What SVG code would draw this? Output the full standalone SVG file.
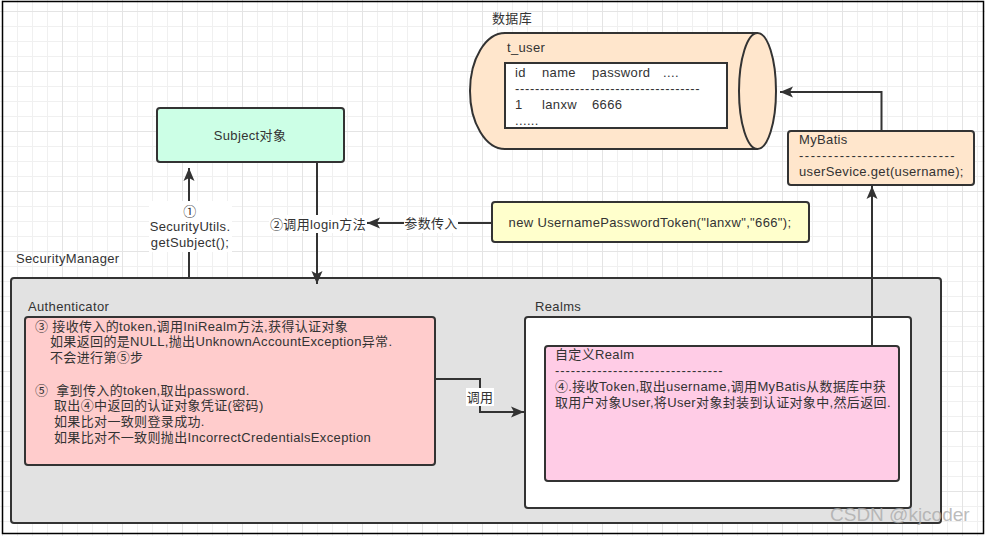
<svg xmlns="http://www.w3.org/2000/svg" width="985" height="536" viewBox="0 0 985 536">
<defs>
<pattern id="grid" width="60" height="60" patternUnits="userSpaceOnUse" x="2" y="11">
<rect width="60" height="60" fill="#ffffff"/>
<rect x="15" y="0" width="1" height="60" fill="#f0f0f0"/>
<rect x="30" y="0" width="1" height="60" fill="#f0f0f0"/>
<rect x="45" y="0" width="1" height="60" fill="#f0f0f0"/>
<rect x="0" y="15" width="60" height="1" fill="#f0f0f0"/>
<rect x="0" y="30" width="60" height="1" fill="#f0f0f0"/>
<rect x="0" y="45" width="60" height="1" fill="#f0f0f0"/>
<rect x="0" y="0" width="1" height="60" fill="#e4e4e4"/>
<rect x="0" y="0" width="60" height="1" fill="#e4e4e4"/>
</pattern>
<marker id="arr" markerUnits="userSpaceOnUse" markerWidth="14" markerHeight="12" viewBox="0 0 14 12" refX="13" refY="6" orient="auto">
<path d="M0,0.5 L13,6 L0,11.5 L3,6 Z" fill="#333"/>
</marker>
</defs>
<style>
text{font-family:"Liberation Sans","Noto Sans CJK SC",sans-serif;font-size:13px;letter-spacing:0.35px;fill:#333;}
.node{stroke:#333;stroke-width:2;}
.edge{fill:none;stroke:#333;stroke-width:2;marker-end:url(#arr);}
.lbg{fill:#ffffff;}
.mid{text-anchor:middle;}
</style>
<rect x="0" y="0" width="985" height="536" fill="url(#grid)"/>
<rect x="2.5" y="1.5" width="981" height="532" fill="none" stroke="#000" stroke-width="1.5"/>

<g id="database">
<text x="492" y="23">数据库</text>
<path class="node" d="M757.5,33 L505,33 A35,58 0 0 0 505,149 L757.5,149" fill="#ffe6cc"/>
<ellipse class="node" cx="757.5" cy="91" rx="18.5" ry="58" fill="#ffe6cc"/>
<text x="507" y="52">t_user</text>
<rect class="node" x="505" y="63" width="222" height="65" fill="#ffffff"/>
<text x="515" y="77">id</text>
<text x="542" y="77">name</text>
<text x="592" y="77">password</text>
<text x="663" y="77">....</text>
<text x="515" y="93" textLength="185" lengthAdjust="spacing">-------------------------------------</text>
<text x="515" y="109">1</text>
<text x="542" y="109">lanxw</text>
<text x="592" y="109">6666</text>
<text x="515" y="125">......</text>
</g>

<g id="mybatis">
<rect class="node" x="788" y="131" width="186" height="54" rx="3" fill="#ffe6cc"/>
<text x="799" y="144">MyBatis</text>
<text x="799" y="160" textLength="156" lengthAdjust="spacing">---------------------------</text>
<text x="799" y="176">userSevice.get(username);</text>
</g>

<g id="subject">
<rect class="node" x="157" y="108" width="187" height="54" rx="3" fill="#ccffe6"/>
<text class="mid" x="250" y="140">Subject对象</text>
</g>

<g id="token">
<rect class="node" x="492" y="202" width="317" height="40" rx="3" fill="#ffffcc"/>
<text class="mid" x="650" y="227">new UsernamePasswordToken("lanxw","666");</text>
</g>

<g id="securitymanager">
<text x="16" y="263">SecurityManager</text>
<rect class="node" x="11" y="278" width="930" height="245" rx="3" fill="#e2e2e2"/>
</g>

<g id="authenticator">
<text x="28" y="311">Authenticator</text>
<rect class="node" x="25" y="317" width="410" height="148" rx="3" fill="#ffcccc"/>
<text x="35" y="331">③ 接收传入的token,调用IniRealm方法,获得认证对象</text>
<text x="50" y="346">如果返回的是NULL,抛出UnknownAccountException异常.</text>
<text x="50" y="362">不会进行第⑤步</text>
<text x="35" y="395">⑤&#160;&#160;拿到传入的token,取出password.</text>
<text x="54" y="410">取出④中返回的认证对象凭证(密码)</text>
<text x="54" y="426">如果比对一致则登录成功.</text>
<text x="54" y="442">如果比对不一致则抛出IncorrectCredentialsException</text>
</g>

<g id="realms">
<text x="535" y="311">Realms</text>
<rect class="node" x="525" y="317" width="386" height="191" rx="3" fill="#ffffff"/>
</g>

<g id="customrealm">
<rect class="node" x="545" y="346" width="354" height="135" rx="3" fill="#ffcce6"/>
<text x="555" y="359">自定义Realm</text>
<text x="555" y="375" textLength="168" lengthAdjust="spacing">--------------------------------</text>
<text x="555" y="391">④.接收Token,取出username,调用MyBatis从数据库中获</text>
<text x="555" y="407">取用户对象User,将User对象封装到认证对象中,然后返回.</text>
</g>

<g id="connectors">
<path class="edge" d="M881.5,131 V92 H780"/>
<path class="edge" d="M872,346 V186"/>
<path class="edge" d="M189,278 V168"/>
<rect class="lbg" x="149" y="201" width="83" height="51"/>
<text class="mid" x="190" y="216">①</text>
<text class="mid" x="190" y="231">SecurityUtils.</text>
<text class="mid" x="190" y="247">getSubject();</text>
<path class="edge" d="M317,162 V284"/>
<rect class="lbg" x="269" y="215" width="98" height="18"/>
<text class="mid" x="318" y="229">②调用login方法</text>
<path class="edge" d="M492,223 H367"/>
<rect class="lbg" x="404" y="215" width="54" height="18"/>
<text class="mid" x="431" y="228">参数传入</text>
<path class="edge" d="M435,379 H480 V412 H524"/>
<rect class="lbg" x="466" y="388" width="28" height="18"/>
<text class="mid" x="480" y="402">调用</text>
</g>

<text x="830" y="521" style="font-size:19px;letter-spacing:0;fill:#aaaaaa;fill-opacity:0.8">CSDN @kjcoder</text>
</svg>
